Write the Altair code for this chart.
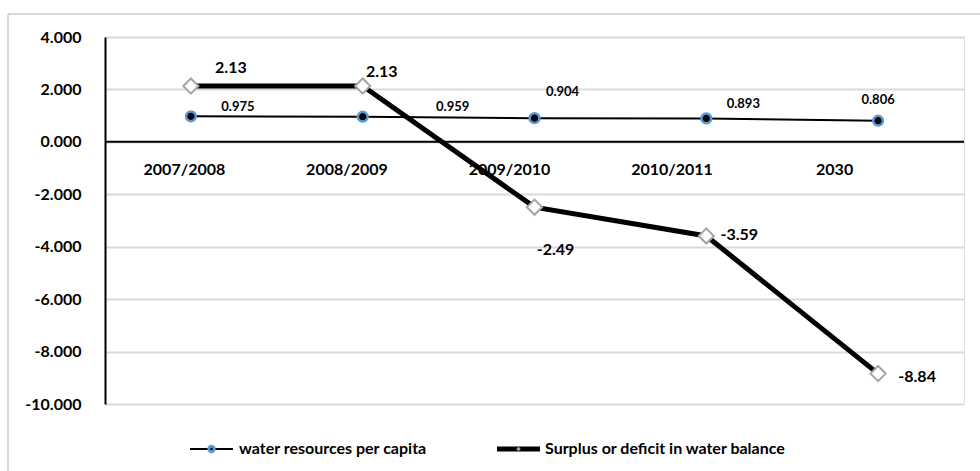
import altair as alt
import pandas as pd

# Water indicators by period
periods = ["2007/2008", "2008/2009", "2009/2010", "2010/2011", "2030"]
water_per_capita = [0.975, 0.959, 0.904, 0.893, 0.806]
water_balance = [2.13, 2.13, -2.49, -3.59, -8.84]
series_names = ["water resources per capita", "Surplus or deficit in water balance"]
y_ticks = [-10, -8, -6, -4, -2, 0, 2, 4]

FONT = "Lato"
W, H = 859, 367
BLUE = "#5b9bd5"
GREY = "#a5a5a5"
GRID = "#d9d9d9"
MINUS = "\u2212"

# label nudges (dx, dy) in pixels for each point's value label
per_capita_shift = [(47, -9), (90, -10), (28, -26), (37, -14), (0, -21)]
balance_shift = [(40, -18), (19, -14), (21, 43), (33, -1), (39, 3)]

df = pd.DataFrame({"period": periods, "per_capita": water_per_capita, "balance": water_balance})

x_enc = alt.X(
    "period:N",
    sort=periods,
    scale=alt.Scale(padding=0.5),
    axis=alt.Axis(
        title=None,
        orient="bottom",
        offset=-262,
        domain=False,
        ticks=False,
        grid=False,
        labelAngle=0,
        labelFont=FONT,
        labelFontSize=16,
        labelFontWeight="bold",
        labelColor="black",
        labelPadding=19,
        labelOverlap=False,
        labelOffset={"expr": "-7 - 37 * datum.index"},
    ),
)
y_scale = alt.Scale(domain=[-10, 4], nice=False, zero=False)
y_axis = alt.Axis(
    title=None,
    values=y_ticks,
    format=".3f",
    labelExpr=f"replace(datum.label, '{MINUS}', '-')",
    domainColor="black",
    domainWidth=2,
    ticks=False,
    labelPadding=24,
    labelFont=FONT,
    labelFontSize=16,
    labelFontWeight="bold",
    labelColor="black",
    gridColor=GRID,
    gridWidth=2,
)

base = alt.Chart(df).encode(x=x_enc).transform_calculate(
    pc_text="format(datum.per_capita, '.3f')",
    bal_text=f"replace(format(datum.balance, '.2f'), '{MINUS}', '-')",
)

per_capita_y = alt.Y("per_capita:Q", scale=y_scale, axis=y_axis)
balance_y = alt.Y("balance:Q", scale=y_scale, axis=y_axis)

zero_rule = alt.Chart(pd.DataFrame({"z": [0]})).mark_rule(color="black", strokeWidth=2).encode(
    y=alt.Y("z:Q", scale=y_scale, axis=y_axis)
)

pc_line = base.mark_line(color="black", strokeWidth=2).encode(y=per_capita_y)
pc_pts = base.mark_point(
    shape="circle", filled=True, fill="black", stroke=BLUE, strokeWidth=2.5, size=95, opacity=1
).encode(y=per_capita_y)

bal_line = base.mark_line(color="black", strokeWidth=5).encode(y=balance_y)
bal_pts = base.mark_point(
    shape="diamond", filled=True, fill="white", stroke=GREY, strokeWidth=2, size=230, opacity=1
).encode(y=balance_y)

labels = []
for p, (dx, dy) in zip(periods, per_capita_shift):
    labels.append(
        base.transform_filter(alt.datum.period == p)
        .mark_text(font=FONT, fontSize=13, fontWeight="bold", color="black", dx=dx, dy=dy)
        .encode(y=per_capita_y, text="pc_text:N")
    )
for p, (dx, dy) in zip(periods, balance_shift):
    labels.append(
        base.transform_filter(alt.datum.period == p)
        .mark_text(font=FONT, fontSize=16, fontWeight="bold", color="black", dx=dx, dy=dy)
        .encode(y=balance_y, text="bal_text:N")
    )

# legend drawn below the plot
legend_df = pd.DataFrame({"series": series_names})
leg_y = 412
leg1 = alt.Chart(legend_df).transform_filter(alt.datum.series == series_names[0])
leg2 = alt.Chart(legend_df).transform_filter(alt.datum.series == series_names[1])
legend = [
    leg1.mark_rule(color="black", strokeWidth=2).encode(
        x=alt.value(85), x2=alt.value(128), y=alt.value(leg_y)
    ),
    leg1.mark_point(shape="circle", filled=True, fill=BLUE, stroke=BLUE, size=40, opacity=1).encode(
        x=alt.value(106.5), y=alt.value(leg_y)
    ),
    leg1.mark_point(shape="circle", filled=True, fill="black", size=6, opacity=1).encode(
        x=alt.value(106.5), y=alt.value(leg_y)
    ),
    leg1.mark_text(align="left", font=FONT, fontSize=16, fontWeight="bold", color="black").encode(
        x=alt.value(134), y=alt.value(leg_y), text="series:N"
    ),
    leg2.mark_rule(color="black", strokeWidth=5).encode(
        x=alt.value(392), x2=alt.value(435), y=alt.value(leg_y)
    ),
    leg2.mark_point(shape="diamond", filled=True, fill=GREY, size=20, opacity=1).encode(
        x=alt.value(413.5), y=alt.value(leg_y)
    ),
    leg2.mark_text(align="left", font=FONT, fontSize=16, fontWeight="bold", color="black").encode(
        x=alt.value(440), y=alt.value(leg_y), text="series:N"
    ),
]

# chart frame (top and left edges)
frame_df = pd.DataFrame({"f": [0]})
frame = [
    alt.Chart(frame_df).mark_rule(color=GRID, strokeWidth=2).encode(
        x=alt.value(-97), x2=alt.value(880), y=alt.value(-23)
    ),
    alt.Chart(frame_df).mark_rule(color=GRID, strokeWidth=2).encode(
        x=alt.value(-97), y=alt.value(-23), y2=alt.value(440)
    ),
]

chart = (
    alt.layer(zero_rule, pc_line, bal_line, pc_pts, bal_pts, *labels, *legend, *frame)
    .properties(
        width=W,
        height=H,
        autosize=alt.AutoSizeParams(type="none"),
        padding={"left": 105, "top": 37, "right": 16, "bottom": 67},
    )
    .configure_view(stroke=None)
    .configure(background="white")
)

chart.save("out.html", embed_options={"renderer": "svg", "actions": False})
